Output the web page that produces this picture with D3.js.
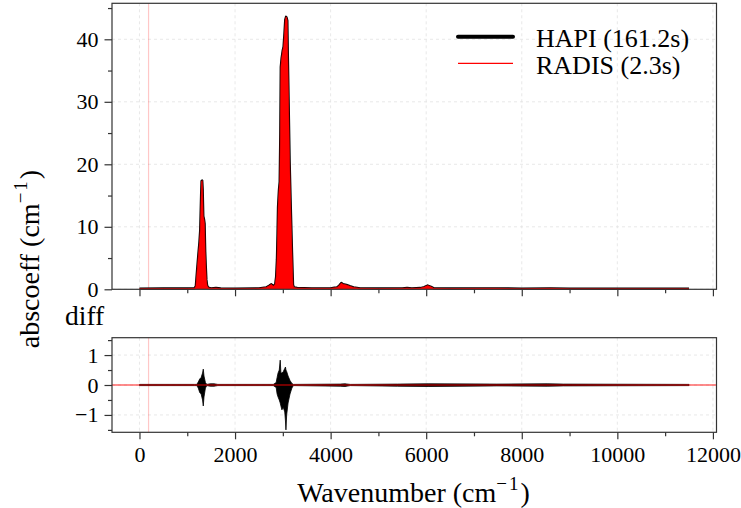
<!DOCTYPE html>
<html>
<head>
<meta charset="utf-8">
<script src="https://cdn.jsdelivr.net/npm/d3@7/dist/d3.min.js"></script>
<style>
body{margin:0;background:#fff;}
text{font-family:"Liberation Serif","Times New Roman",serif;fill:#000;}
</style>
</head>
<body>
<script>
// spectrum envelope (cm-1, cm-1)
var wavenumber = [0,500,1000,1150,1180,1205,1235,1255,1272,1290,1300,1312,1322,1335,1350,1362,1375,1385,1400,1415,1440,1500,1600,1700,2000,2500,2650,2720,2760,2800,2840,2860,2877,2890,2900,2920,2935,2948,2958,2975,3000,3016,3035,3051,3068,3080,3093,3105,3120,3141,3162,3192,3205,3213,3230,3300,3600,4000,4080,4134,4180,4224,4260,4330,4400,4480,4620,5000,5500,5600,5700,5880,5960,6030,6100,6160,6500,7200,7500,8000,8600,9000,10000,11500];
var abscoeff   = [0.1,0.12,0.12,0.15,0.5,3.0,5.8,7.5,9.5,15,17.3,17.4,16,11.7,11.2,10.5,6,4,1.5,0.6,0.25,0.15,0.2,0.12,0.1,0.15,0.3,0.6,0.8,0.5,0.8,2,4.7,9,13.2,16,17.2,25,35.6,37,38.3,38.8,41,43.1,43.6,43.4,43,37,30.3,20.7,14.3,5.8,2.5,0.7,0.3,0.2,0.15,0.15,0.25,0.3,0.6,1.0,0.8,0.7,0.5,0.3,0.15,0.12,0.15,0.2,0.15,0.2,0.35,0.6,0.4,0.15,0.12,0.15,0.15,0.1,0.15,0.1,0.1,0.1];

// difference HAPI - RADIS, upper and lower envelope
var diffWn = [0,1150,1200,1230,1260,1290,1320,1335,1350,1380,1410,1480,1560,1640,2800,2860,2880,2900,2925,2945,2960,2980,3010,3040,3055,3065,3080,3110,3150,3190,3220,4200,4300,4410,5400,6040,7480,8530,8870,11500];
var diffHi = [0.02,0.02,0.02,0.1,0.2,0.25,0.4,0.53,0.3,0.08,0.02,0.04,0.04,0.02,0.02,0.08,0.25,0.4,0.5,0.83,0.4,0.4,0.45,0.55,0.6,0.5,0.45,0.3,0.15,0.05,0.02,0.03,0.04,0.02,0.03,0.04,0.03,0.04,0.03,0.02];
var diffLo = [-0.02,-0.02,-0.02,-0.1,-0.25,-0.3,-0.5,-0.7,-0.4,-0.1,-0.02,-0.04,-0.04,-0.02,-0.02,-0.08,-0.3,-0.4,-0.5,-0.6,-0.7,-0.83,-0.75,-0.9,-1.2,-1.5,-1.0,-0.6,-0.3,-0.1,-0.02,-0.04,-0.05,-0.02,-0.04,-0.05,-0.03,-0.04,-0.03,-0.02];

var xTicks = [0,2000,4000,6000,8000,10000,12000];
var xMinor = [1000,3000,5000,7000,9000,11000];
var yTicks = [0,10,20,30,40];
var yMinor = [5,15,25,35,45];
var dTicks = [-1,0,1];
var dMinor = [-1.5,-0.5,0.5,1.5];
var legendLabels = ["HAPI (161.2s)","RADIS (2.3s)"];
var markerWn = 190;

var W = 741, H = 508;
var L = 112, R = 716.5;
var T1 = 3.3, B1 = 289.3, T2 = 337.7, B2 = 432.3;
var spine = "#333";

var svg = d3.select("body").append("svg")
    .attr("width", W).attr("height", H);

var x = d3.scaleLinear().domain([-575, 12075]).range([L, R]);
var y = d3.scaleLinear().domain([0, 45.76]).range([B1, T1]);
var yd = d3.scaleLinear().domain([-1.58, 1.58]).range([B2, T2]);

var fmt = function(d){ return d < 0 ? "\u2212" + Math.abs(d) : String(d); };

function grid(g, yScale, yt, top, bot){
    g.selectAll(".gx").data(xTicks).enter().append("line")
        .attr("x1", d => x(d)).attr("x2", d => x(d))
        .attr("y1", top).attr("y2", bot)
        .attr("stroke", "#e2e2e2").attr("stroke-width", 0.8).attr("stroke-dasharray", "3,3");
    g.selectAll(".gy").data(yt).enter().append("line")
        .attr("x1", L).attr("x2", R)
        .attr("y1", d => yScale(d)).attr("y2", d => yScale(d))
        .attr("stroke", "#e2e2e2").attr("stroke-width", 0.8).attr("stroke-dasharray", "3,3");
    g.append("line")
        .attr("x1", x(markerWn)).attr("x2", x(markerWn))
        .attr("y1", top).attr("y2", bot)
        .attr("stroke", "#ff0000").attr("stroke-opacity", 0.22).attr("stroke-width", 1.2);
}

function axes(g, yScale, yt, ym, top, bot, labels){
    var ax = d3.axisBottom(x).tickValues(xTicks).tickSize(7).tickPadding(6.6)
        .tickFormat(labels ? fmt : "");
    var axm = d3.axisBottom(x).tickValues(xMinor).tickSize(4).tickFormat("");
    var ay = d3.axisLeft(yScale).tickValues(yt).tickSize(7.5).tickPadding(6).tickFormat(fmt);
    var aym = d3.axisLeft(yScale).tickValues(ym).tickSize(4).tickFormat("");
    [[ax, "translate(0," + bot + ")"], [axm, "translate(0," + bot + ")"],
     [ay, "translate(" + L + ",0)"], [aym, "translate(" + L + ",0)"]].forEach(function(a){
        var s = g.append("g").attr("transform", a[1]).call(a[0]);
        s.select(".domain").remove();
        s.selectAll("line").attr("stroke", spine).attr("stroke-width", 1.2);
        s.selectAll("text").style("font-family", '"Liberation Serif",serif')
            .style("font-size", "22px").attr("fill", "#000");
    });
    g.append("rect").attr("x", L).attr("y", top).attr("width", R - L).attr("height", bot - top)
        .attr("fill", "none").attr("stroke", spine).attr("stroke-width", 1.2);
}

// top panel
var g1 = svg.append("g");
grid(g1, y, yTicks, T1, B1);
var pts = wavenumber.map((w, i) => [w, abscoeff[i]]);
var line = d3.line().x(d => x(d[0])).y(d => y(d[1]));
var area = d3.area().x(d => x(d[0])).y0(y(0)).y1(d => y(d[1]));
g1.append("path").datum(pts).attr("d", line)
    .attr("fill", "none").attr("stroke", "#000").attr("stroke-width", 2.4).attr("stroke-linejoin", "round");
g1.append("path").datum(pts).attr("d", area).attr("fill", "#ff0000");
g1.append("path").datum(pts).attr("d", line)
    .attr("fill", "none").attr("stroke", "#ff0000").attr("stroke-width", 0.6);
axes(g1, y, yTicks, yMinor, T1, B1, false);

// legend
var lg = svg.append("g");
lg.append("line").attr("x1", 458).attr("x2", 513).attr("y1", 36.7).attr("y2", 36.7)
    .attr("stroke", "#000").attr("stroke-width", 4).attr("stroke-linecap", "round");
lg.append("line").attr("x1", 458).attr("x2", 513).attr("y1", 63.3).attr("y2", 63.3)
    .attr("stroke", "#ff0000").attr("stroke-width", 1.3);
lg.selectAll("text").data(legendLabels).enter().append("text")
    .attr("x", 536).attr("y", (d, i) => i ? 74 : 46.7)
    .style("font-size", "26px").text(d => d);

// bottom panel
var g2 = svg.append("g");
grid(g2, yd, dTicks, T2, B2);
var dpts = diffWn.map((w, i) => [w, diffHi[i], diffLo[i]]);
g2.append("path").datum(dpts)
    .attr("d", d3.area().x(d => x(d[0])).y0(d => yd(d[2])).y1(d => yd(d[1])))
    .attr("fill", "#000").attr("stroke", "#000").attr("stroke-width", 0.8);
g2.append("line").attr("x1", L).attr("x2", R).attr("y1", yd(0)).attr("y2", yd(0))
    .attr("stroke", "#ff0000").attr("stroke-opacity", 0.6).attr("stroke-width", 1.5);
axes(g2, yd, dTicks, dMinor, T2, B2, true);

// labels
var xl = svg.append("text").attr("x", 413.5).attr("y", 501.5)
    .attr("text-anchor", "middle").style("font-size", "28px");
xl.append("tspan").text("Wavenumber (cm");
xl.append("tspan").attr("dy", -12).style("font-size", "19px").attr("letter-spacing", "2px").text("\u22121");
xl.append("tspan").attr("dy", 12).text(")");

var yl = svg.append("text").attr("transform", "translate(39,259) rotate(-90)")
    .attr("text-anchor", "middle").style("font-size", "28px");
yl.append("tspan").text("abscoeff (cm");
yl.append("tspan").attr("dy", -12).style("font-size", "19px").attr("letter-spacing", "2px").text("\u22121");
yl.append("tspan").attr("dy", 12).text(")");

svg.append("text").attr("x", 65).attr("y", 325).style("font-size", "27.5px").text("diff");
</script>
</body>
</html>
